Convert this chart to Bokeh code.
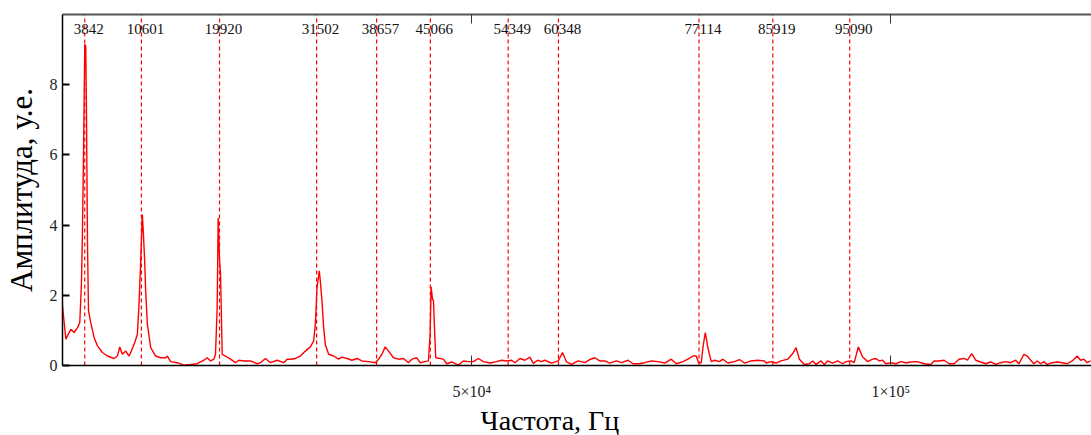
from bokeh.plotting import figure
from bokeh.models import Range1d, LinearAxis, FixedTicker, Title
from bokeh.core.properties import value
from bokeh.embed import file_html
from bokeh.resources import INLINE
import numpy as np

# ---- data (frequency in kHz, amplitude in arbitrary units) ----
freq_khz_a = [1.19, 1.31, 1.59, 2.18, 2.58, 2.98, 3.25, 3.45, 3.57, 3.69,
              3.85, 3.96, 4.05, 4.17, 4.29, 4.56, 4.96, 5.36, 5.95, 6.55,
              7.34, 7.74, 8.02, 8.33, 8.73, 9.13, 9.40, 9.80, 10.12, 10.32,
              10.52, 10.71, 10.83, 10.99, 11.11, 11.31, 11.71, 12.30, 12.90, 13.49,
              13.69, 14.09, 14.88, 15.67, 16.47, 17.26, 18.06, 18.45, 18.85, 19.25,
              19.44, 19.64, 19.76, 19.92, 20.04, 20.24, 20.63, 21.23, 21.82, 22.22,
              22.82, 23.61, 24.40, 24.80, 25.40, 25.99, 26.79, 27.58, 27.98, 28.37,
              28.97, 29.56, 30.16, 30.75, 31.15, 31.35, 31.55, 31.82, 31.94, 32.14,
              32.34, 32.54, 32.94, 33.53, 34.13, 34.52, 35.12, 35.71, 36.31, 36.90,
              37.70, 38.49, 38.89, 39.29, 39.68, 40.08, 40.67, 41.27, 41.87, 42.46,
              42.86, 43.45]
amp_a = [1.70, 1.41, 0.75, 1.03, 0.94, 1.08, 1.22, 2.32, 3.80, 5.90,
         9.15, 9.10, 7.20, 3.50, 1.56, 1.22, 0.80, 0.56, 0.37, 0.27,
         0.20, 0.27, 0.53, 0.32, 0.41, 0.27, 0.41, 0.65, 0.89, 1.75,
         2.99, 4.30, 3.80, 2.99, 2.13, 1.18, 0.51, 0.27, 0.22, 0.22,
         0.27, 0.11, 0.08, 0.01, 0.03, 0.05, 0.15, 0.22, 0.13, 0.18,
         0.32, 1.65, 4.20, 3.00, 2.60, 0.32, 0.27, 0.18, 0.08, 0.15,
         0.13, 0.13, 0.05, 0.08, 0.20, 0.08, 0.15, 0.08, 0.18, 0.18,
         0.20, 0.27, 0.41, 0.53, 0.70, 1.18, 2.22, 2.70, 2.41, 1.84,
         1.08, 0.60, 0.32, 0.27, 0.18, 0.24, 0.20, 0.15, 0.20, 0.13,
         0.11, 0.08, 0.18, 0.32, 0.53, 0.41, 0.22, 0.18, 0.20, 0.08,
         0.18, 0.22]

freq_khz_b = [43.85, 44.44, 44.84, 45.04, 45.16, 45.32, 45.44, 45.56, 45.71, 46.63,
              47.02, 47.62, 48.41, 49.01, 49.60, 50.20, 50.79, 51.39, 52.18, 52.98,
              53.57, 54.17, 54.76, 55.16, 55.75, 56.35, 56.94, 57.34, 57.86, 58.33,
              58.73, 59.52, 60.32, 60.83, 61.31, 61.90, 62.70, 63.49, 64.09, 64.68,
              65.27, 65.87, 66.46, 67.26, 67.86, 68.65, 69.25, 70.04, 70.63, 71.43,
              72.22, 73.02, 73.81, 74.40, 75.20, 75.79, 76.39, 76.79, 77.06, 77.38,
              77.58, 77.86, 78.17, 78.57, 78.97, 79.56, 79.96, 80.56, 81.35, 81.94,
              82.54, 83.33, 84.13, 84.92]
amp_b = [0.08, 0.11, 0.13, 0.89, 2.24, 1.90, 1.85, 1.08, 0.22, 0.18,
         0.05, 0.10, 0.01, 0.13, 0.11, 0.11, 0.20, 0.11, 0.07, 0.11,
         0.15, 0.13, 0.15, 0.08, 0.20, 0.15, 0.24, 0.06, 0.15, 0.11,
         0.15, 0.07, 0.13, 0.37, 0.10, 0.03, 0.13, 0.08, 0.17, 0.22,
         0.13, 0.13, 0.07, 0.13, 0.08, 0.15, 0.05, 0.05, 0.08, 0.13,
         0.11, 0.07, 0.18, 0.05, 0.11, 0.18, 0.27, 0.27, 0.08, 0.08,
         0.51, 0.94, 0.51, 0.11, 0.15, 0.11, 0.18, 0.07, 0.11, 0.17,
         0.07, 0.13, 0.15, 0.13]

freq_khz_c = [85.12, 85.71, 86.31, 86.90, 87.70, 88.29, 88.69, 89.09, 89.68, 90.28,
              90.67, 91.07, 91.67, 92.06, 92.46, 93.06, 93.65, 94.25, 94.64, 95.24,
              95.63, 96.11, 96.63, 97.23, 97.82, 98.21, 98.61, 99.01, 99.40, 100.00,
              100.60, 101.19, 101.79, 102.38, 103.17, 103.97, 104.76, 105.16, 105.75, 106.35,
              106.94, 107.54, 108.13, 108.73, 109.13, 109.64, 110.12, 110.71, 111.31, 111.90,
              112.50, 113.10, 113.69, 114.29, 114.88, 115.28, 115.87, 116.27, 116.67, 117.06,
              117.46, 117.86, 118.25, 118.65, 119.25, 119.84, 120.44, 121.04, 121.63, 122.23,
              122.62, 123.02, 123.41, 123.81]
amp_c = [0.07, 0.11, 0.07, 0.13, 0.18, 0.34, 0.51, 0.18, 0.03, 0.05,
         0.13, 0.03, 0.13, 0.03, 0.13, 0.07, 0.13, 0.05, 0.11, 0.13,
         0.08, 0.53, 0.24, 0.11, 0.18, 0.20, 0.13, 0.15, 0.05, 0.08,
         0.05, 0.11, 0.08, 0.10, 0.11, 0.05, 0.03, 0.13, 0.13, 0.15,
         0.05, 0.05, 0.18, 0.20, 0.15, 0.34, 0.15, 0.10, 0.05, 0.10,
         0.03, 0.08, 0.11, 0.08, 0.15, 0.05, 0.32, 0.27, 0.15, 0.05,
         0.13, 0.05, 0.11, 0.03, 0.08, 0.10, 0.08, 0.05, 0.13, 0.27,
         0.15, 0.18, 0.08, 0.13]

peak_freqs = [3842, 10601, 19920, 31502, 38657, 45066, 54349, 60348, 77114, 85919, 95090]
peak_labels = [str(f) for f in peak_freqs]

x_ticks = [50000, 100000]
x_tick_labels = {50000: "5×10⁴", 100000: "1×10⁵"}
y_ticks = [0, 2, 4, 6, 8]

freq_hz = np.array(freq_khz_a + freq_khz_b + freq_khz_c) * 1000.0
amp = np.array(amp_a + amp_b + amp_c)

SERIF = "Liberation Serif"
RED = "#ff0000"

p = figure(width=1091, height=435, output_backend="svg", toolbar_location=None,
           x_range=Range1d(1190, 123930), y_range=Range1d(0, 10),
           min_border_left=60, min_border_right=0, min_border_top=14,
           min_border_bottom=70)
p.outline_line_color = None
p.grid.visible = False
p.background_fill_color = "white"

# bottom axis
xa = p.xaxis[0]
xa.ticker = FixedTicker(ticks=x_ticks)
xa.major_label_overrides = x_tick_labels
xa.major_tick_in = 10
xa.major_tick_out = 0
xa.major_tick_line_color = "#333333"
xa.minor_tick_line_color = None
xa.axis_line_color = "black"
xa.axis_line_width = 1.5
xa.major_label_standoff = 17
xa.major_label_text_font = SERIF
xa.major_label_text_font_size = "16px"
xa.major_label_text_color = "#222222"

# left axis
ya = p.yaxis[0]
ya.ticker = FixedTicker(ticks=y_ticks)
ya.major_tick_in = 7
ya.major_tick_out = 0
ya.major_tick_line_width = 2
ya.major_tick_line_color = "black"
ya.minor_tick_line_color = None
ya.axis_line_color = "black"
ya.axis_line_width = 1.5
ya.major_label_standoff = 5
ya.major_label_text_font = SERIF
ya.major_label_text_font_size = "16px"
ya.major_label_text_color = "#222222"
ya.axis_label = "Амплитуда, у.е."
ya.axis_label_text_font = SERIF
ya.axis_label_text_font_size = "31px"
ya.axis_label_text_font_style = "normal"
ya.axis_label_text_color = "black"
ya.axis_label_standoff = 8

# top border axis with inward ticks (no labels)
top = LinearAxis(ticker=FixedTicker(ticks=x_ticks),
                 major_label_overrides={50000: "", 100000: ""},
                 major_label_standoff=0,
                 major_tick_in=9, major_tick_out=0, minor_tick_line_color=None,
                 axis_line_color="#555555", axis_line_width=2,
                 major_tick_line_color="#333333")
p.add_layout(top, "above")

# dashed marker lines at peaks
p.segment(x0=peak_freqs, y0=[0] * len(peak_freqs), x1=peak_freqs,
          y1=[10] * len(peak_freqs), line_color=RED, line_width=1.2,
          line_dash="4 3")

# spectrum
p.line(freq_hz, amp, line_color=RED, line_width=1.4)

# peak labels
p.text(x=peak_freqs, y=[9.6] * len(peak_freqs), text=peak_labels,
       text_align="center", text_baseline="middle", x_offset=4,
       text_font=value(SERIF), text_font_size="15px", text_color="#111111")

# x-axis title
p.add_layout(Title(text="Частота, Гц", align="left", offset=418, standoff=0,
                   text_font=SERIF, text_font_size="28px",
                   text_font_style="normal", text_color="black"), "below")

open("out.html", "w").write(file_html(p, INLINE))
